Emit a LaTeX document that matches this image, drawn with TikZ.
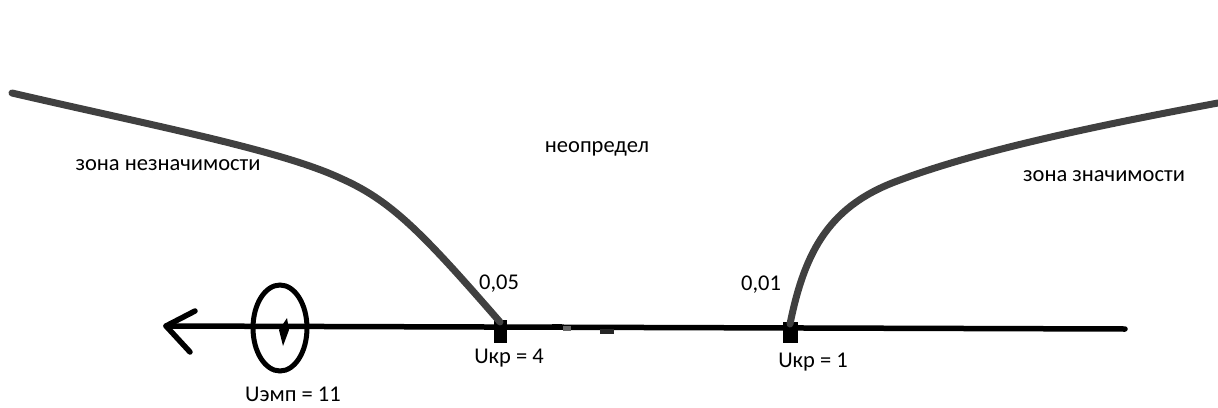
\documentclass[tikz,border=0pt]{standalone}
\usepackage{fontspec}
\setmainfont{Carlito}
\begin{document}
\begin{tikzpicture}[x=1pt,y=-1pt,
  lbl/.style={font=\fontsize{22.5}{24}\selectfont, text=black, inner sep=0pt},
  curve/.style={draw=black!75, line width=7pt, line cap=round},
  axis/.style={draw=black, line width=5.5pt, line cap=round, line join=round},
  tickmark/.style={fill=black}]
\useasboundingbox (0,0) rectangle (1218,407);
% axis
\coordinate (arrtip) at (166,326);
\coordinate (axend) at (1125,329);
\draw[axis] (arrtip) -- (axend);
\draw[axis] (195,311) -- (arrtip) -- (190,352);
% small artifacts on axis
\fill[black!60] (563,326) rectangle (571,331);
\fill[black] (552,324) rectangle (562,328);
\fill[black!85] (600,329) rectangle (614,334);
% ellipse and mark
\draw[line width=5pt] (280,328) ellipse [x radius=27, y radius=43];
\fill[black] (287,318) -- (289,330) -- (283,346) -- (279,330) -- cycle;
% ticks
\fill[tickmark] (494,320) rectangle (507,343);
\fill[tickmark] (783,322) rectangle (798,343);
\coordinate (t1) at (500,322);
\coordinate (t2) at (790,324);
% left curve
\draw[curve] (12,93) .. controls (150,125) and (280,150) .. (340,178)
   .. controls (390,200) and (420,230) .. (t1);
% right curve
\draw[curve] (t2) .. controls (805,250) and (830,205) .. (900,180)
   .. controls (980,150) and (1100,125) .. (1218,103);
% labels
\node[lbl] (zn) at (168,165) {зона незначимости};
\node[lbl] (neo) at (597,149) {неопредел};
\node[lbl] (zz) at (1104,176) {зона значимости};
\node[lbl] (p05) at (499,284) {0,05};
\node[lbl] (p01) at (761,285) {0,01};
\node[lbl] (u4) at (509,358) {Uкр = 4};
\node[lbl] (u1) at (813,362) {Uкр = 1};
\node[lbl] (ue) at (293,394) {Uэмп = 11};
\end{tikzpicture}
\end{document}
